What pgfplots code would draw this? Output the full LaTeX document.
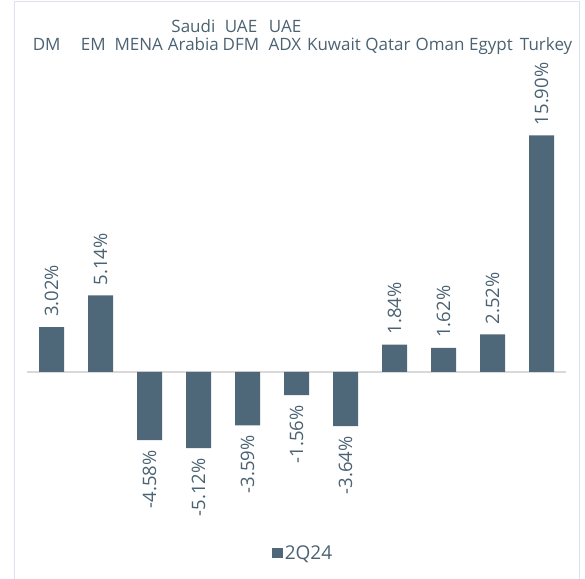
\documentclass[border=0pt]{standalone}
\usepackage{pgfplots}
\pgfplotsset{compat=1.18}
\usepackage{pgfplotstable}
\usepackage{fontspec}
\setmainfont{Open Sans}
\definecolor{barc}{HTML}{4F6879}
\definecolor{txtc}{HTML}{4B6272}
\definecolor{framec}{HTML}{DCE3EA}
\pgfplotstableread{
x y
0 3.02
1 5.14
7 1.84
8 1.62
9 2.52
10 15.90
}\pos
\pgfplotstableread{
x y
2 -4.58
3 -5.12
4 -3.59
5 -1.56
6 -3.64
}\negv
\newcommand\tl[2]{\strut#1\\\strut#2}
\begin{document}
\begin{tikzpicture}[x=1pt,y=1pt]
\useasboundingbox (0,0) rectangle (585,578);
\draw[framec, line width=1pt] (14,-2) -- (14,576) -- (579,576) -- (579,-2);
\begin{axis}[
  at={(27pt,87pt)}, anchor=south west,
  scale only axis, width=539pt, height=436pt,
  xmin=-0.5, xmax=10.5, ymin=-8, ymax=21.3,
  axis line style={draw=none}, tick style={draw=none}, clip=false,
  ybar, bar width=25pt, bar shift=0pt,
  xtick={-0.098,0.851,1.781,2.896,3.867,4.765,5.765,6.867,7.929,8.969,10.094},
  xticklabels={{\tl{}{DM}},{\tl{}{EM}},{\tl{}{MENA}},{\tl{Saudi}{Arabia}},{\tl{UAE}{DFM}},{\tl{UAE}{ADX}},{\tl{}{Kuwait}},{\tl{}{Qatar}},{\tl{}{Oman}},{\tl{}{Egypt}},{\tl{}{Turkey}}},
  xticklabel pos=upper,
  xticklabel style={anchor=south, align=center, inner sep=0pt, yshift=-6pt, text=txtc, font=\fontsize{17}{18.7}\selectfont},
  ytick=\empty,
  /pgf/number format/assume math mode=true,
  nodes near coords={\pgfmathprintnumber[fixed,fixed zerofill,precision=2]{\pgfplotspointmeta}\%},
  nodes near coords style={text=txtc, font=\fontsize{18.5}{20}\selectfont, rotate=90, inner xsep=10pt, inner ysep=0pt},
  legend style={at={(0.512,-0.143)}, anchor=center, draw=none, fill=none, font=\fontsize{19}{20}\selectfont, text=txtc, legend columns=1},
  legend image code/.code={\fill[barc] (0pt,-5pt) rectangle (11pt,5pt);},
]
\draw[black!15, line width=1.2pt] (axis cs:-0.5,0) -- (axis cs:10.5,0);
\addplot[fill=barc, draw=none, every node near coord/.append style={anchor=west}] table[x=x,y=y] {\pos};
\addlegendentry{2Q24}
\addplot[fill=barc, draw=none, forget plot, every node near coord/.append style={anchor=east}] table[x=x,y=y] {\negv};
\end{axis}
\end{tikzpicture}
\end{document}
